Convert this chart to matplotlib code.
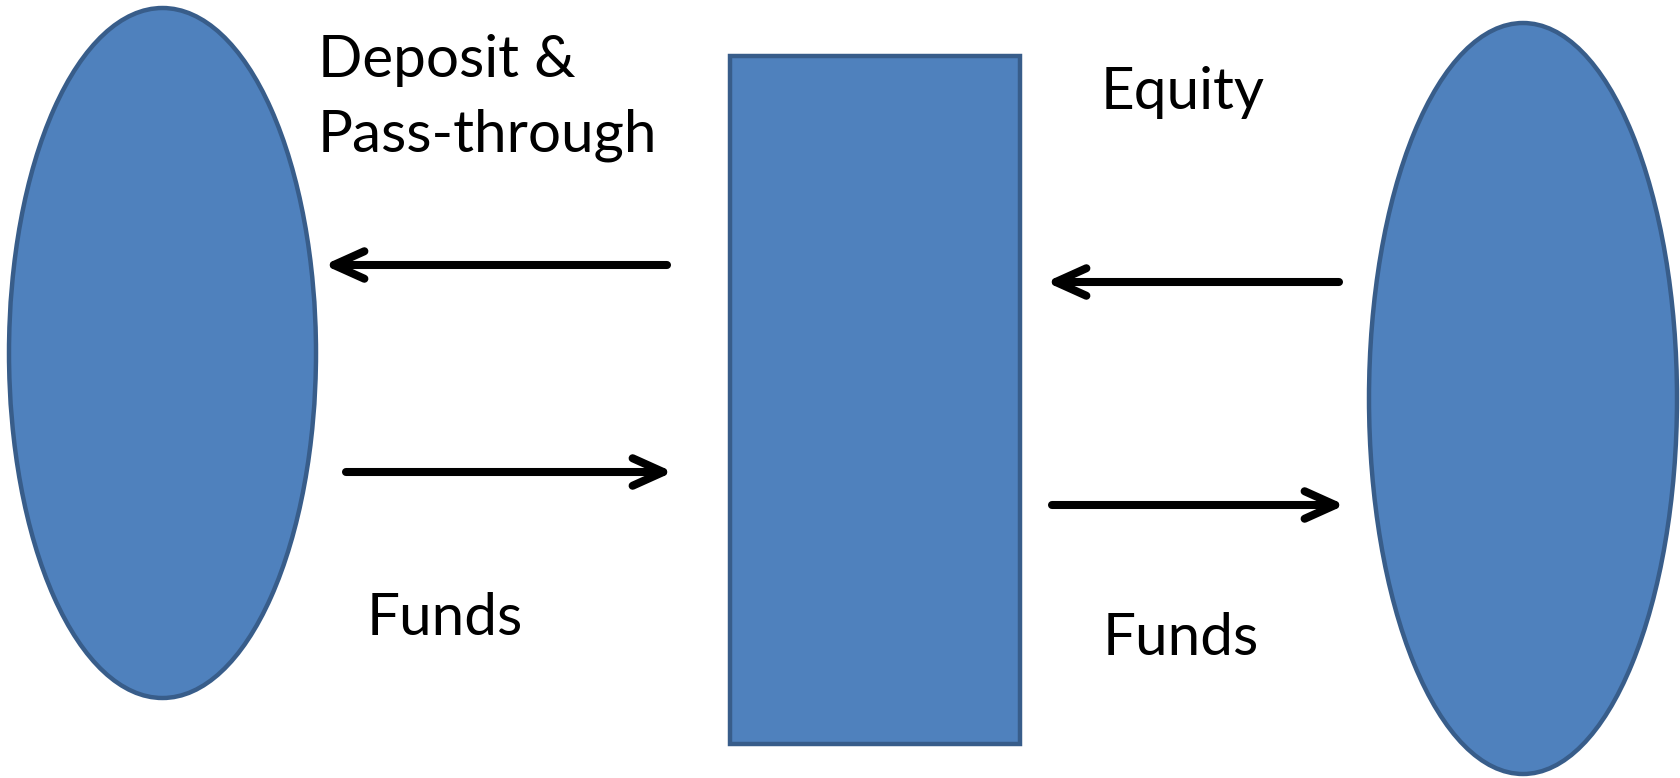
import matplotlib.pyplot as plt
from matplotlib.patches import Ellipse, Rectangle, FancyArrowPatch

# Canvas in pixels (y grows downward)
W, H = 1681, 778

# Shapes: (x_left, y_top, x_right, y_bottom) in picture pixels
left_oval = (9, 8, 316, 698)
middle_box = (730, 56, 1020, 744)
right_oval = (1369, 23, 1677, 774)

# Arrows: (x_start, x_end, y)
arrows_x0 = [667, 346, 1339, 1052]
arrows_x1 = [324, 673, 1046, 1345]
arrows_y = [265, 472, 282, 505]

# Labels: text, x_left, y_top
labels = ["Deposit &\nPass-through", "Funds", "Equity", "Funds"]
labels_x = [318, 367, 1101, 1103]
labels_y = [34, 592, 66, 612]

fill = "#4F81BD"
edge = "#385D8A"

fig = plt.figure(figsize=(W / 100, H / 100), dpi=100)
ax = fig.add_axes([0, 0, 1, 1])
ax.set_xlim(0, W)
ax.set_ylim(H, 0)
ax.axis("off")

for x0, y0, x1, y1 in [left_oval, right_oval]:
    ax.add_patch(Ellipse(((x0 + x1) / 2, (y0 + y1) / 2), x1 - x0, y1 - y0,
                         facecolor=fill, edgecolor=edge, lw=3.2))

x0, y0, x1, y1 = middle_box
ax.add_patch(Rectangle((x0, y0), x1 - x0, y1 - y0,
                       facecolor=fill, edgecolor=edge, lw=3.2))

for xs, xe, y in zip(arrows_x0, arrows_x1, arrows_y):
    arr = FancyArrowPatch((xs, y), (xe, y),
                          arrowstyle="->,head_length=1.0,head_width=0.45",
                          mutation_scale=22, lw=5.8, color="black",
                          shrinkA=0, shrinkB=0, capstyle="round",
                          joinstyle="round")
    ax.add_patch(arr)

for t, x, y in zip(labels, labels_x, labels_y):
    ax.text(x, y, t, fontsize=42, family="Lato", ha="left", va="top",
            linespacing=1.5)

fig.savefig("out.png", dpi=100)
